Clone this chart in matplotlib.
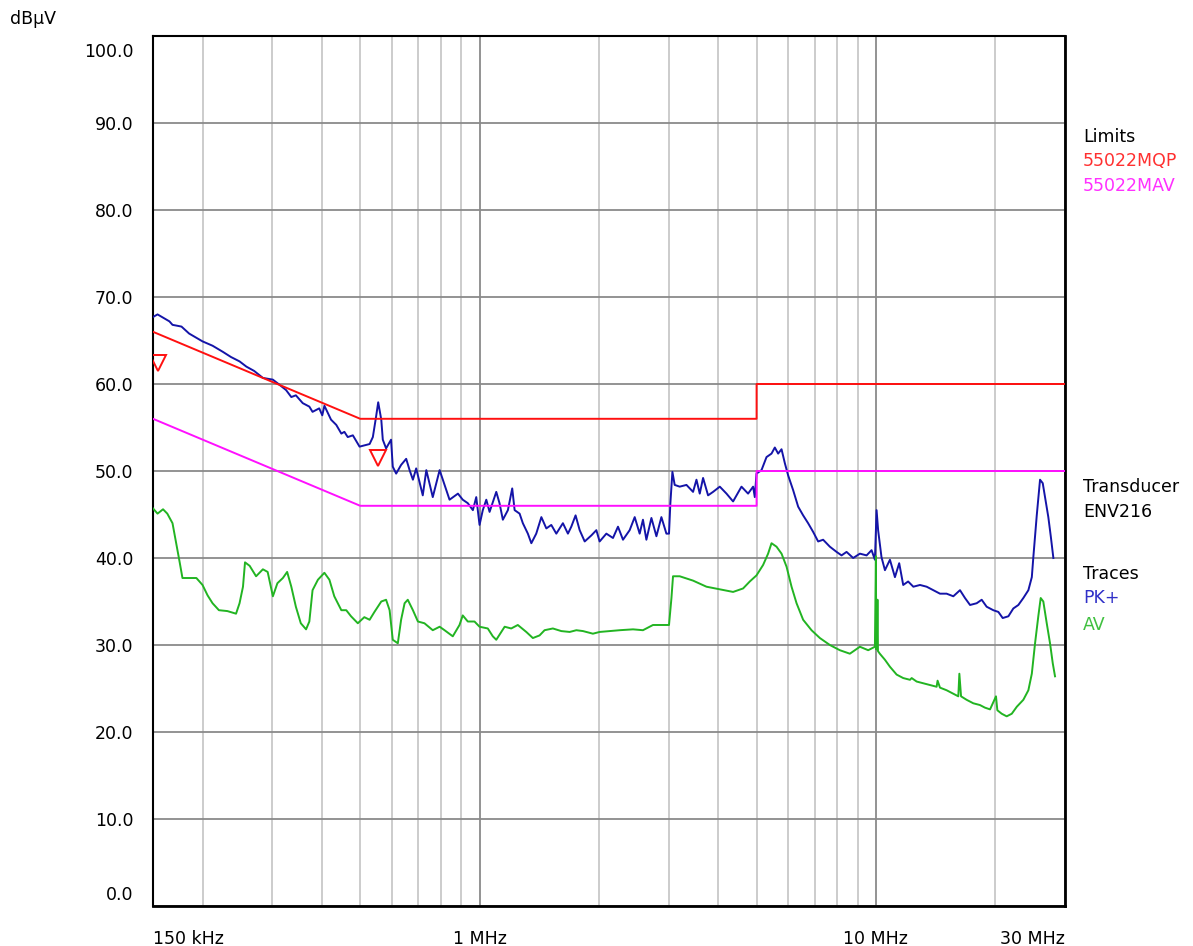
import matplotlib
matplotlib.use('agg')
import matplotlib.pyplot as plt
import matplotlib.transforms as mtransforms
from matplotlib.ticker import FixedLocator, LogLocator, NullFormatter

# limit lines (EN55022 class B, QP and AV), frequency in MHz, level in dBuV
limit_freq = [0.15, 0.5, 5, 5, 30]
qp_limit = [66, 56, 56, 60, 60]
av_limit = [56, 46, 46, 50, 50]

# PK+ trace
pk_freq = [0.150, 0.154, 0.165, 0.168, 0.177, 0.185, 0.200, 0.212, 0.225, 0.236,
           0.248, 0.258, 0.270, 0.284, 0.301, 0.313, 0.325, 0.335, 0.344, 0.358,
           0.372, 0.379, 0.394, 0.401, 0.406, 0.422, 0.435, 0.448, 0.456, 0.465,
           0.479, 0.498, 0.528, 0.538, 0.548, 0.555, 0.565, 0.570, 0.581, 0.598,
           0.604, 0.616, 0.634, 0.653, 0.666, 0.679, 0.692, 0.719, 0.734, 0.762,
           0.793, 0.816, 0.840, 0.882, 0.907, 0.934, 0.962, 0.981, 1.000, 1.019,
           1.040, 1.060, 1.102, 1.123, 1.145, 1.179, 1.209, 1.226, 1.262, 1.286,
           1.324, 1.351, 1.390, 1.432, 1.474, 1.517, 1.562, 1.623, 1.671, 1.704,
           1.747, 1.789, 1.842, 1.915, 1.971, 2.009, 2.089, 2.171, 2.235, 2.301,
           2.392, 2.463, 2.535, 2.584, 2.636, 2.714, 2.794, 2.876, 2.961, 3.006,
           3.030, 3.066, 3.107, 3.199, 3.327, 3.457, 3.526, 3.594, 3.664, 3.772,
           3.883, 4.038, 4.198, 4.362, 4.580, 4.759, 4.900, 4.948, 4.997, 5.145,
           5.297, 5.453, 5.559, 5.667, 5.780, 5.892, 6.006, 6.183, 6.366, 6.553,
           6.745, 6.945, 7.150, 7.360, 7.653, 7.958, 8.191, 8.433, 8.764, 9.112,
           9.474, 9.752, 9.943, 10.04, 10.13, 10.33, 10.54, 10.85, 11.17, 11.45,
           11.72, 12.06, 12.43, 12.92, 13.43, 13.95, 14.51, 15.08, 15.68, 16.30,
           16.78, 17.28, 17.96, 18.49, 19.03, 19.78, 20.37, 20.89, 21.59, 22.22,
           22.88, 23.55, 24.25, 24.74, 24.96, 25.46, 25.95, 26.36, 26.72, 27.23,
           27.62, 28.04]
pk_level = [67.7, 68.0, 67.2, 66.8, 66.6, 65.8, 64.9, 64.4, 63.7, 63.1,
            62.6, 62.0, 61.5, 60.7, 60.5, 59.9, 59.3, 58.5, 58.7, 57.8,
            57.4, 56.8, 57.2, 56.4, 57.5, 55.9, 55.3, 54.3, 54.5, 53.9,
            54.1, 52.8, 53.1, 53.9, 56.2, 57.9, 55.9, 53.6, 52.6, 53.6,
            50.5, 49.7, 50.7, 51.4, 50.1, 49.0, 50.3, 47.2, 50.1, 47.0,
            50.1, 48.4, 46.7, 47.4, 46.7, 46.3, 45.5, 47.0, 43.8, 45.5,
            46.7, 45.3, 47.6, 46.3, 44.4, 45.5, 48.0, 45.5, 45.1, 44.0,
            42.8, 41.7, 42.8, 44.7, 43.4, 43.8, 42.8, 44.0, 42.8, 43.6,
            44.9, 43.2, 41.9, 42.6, 43.2, 41.9, 42.8, 42.3, 43.6, 42.1,
            43.2, 44.7, 42.8, 44.4, 42.1, 44.6, 42.5, 44.7, 42.8, 42.8,
            46.3, 49.9, 48.4, 48.2, 48.4, 47.6, 49.0, 47.4, 49.2, 47.2,
            47.6, 48.2, 47.4, 46.5, 48.2, 47.4, 48.2, 47.0, 49.7, 50.1,
            51.6, 52.0, 52.7, 52.0, 52.5, 50.9, 49.5, 47.8, 45.9, 44.9,
            44.0, 43.0, 41.9, 42.1, 41.3, 40.7, 40.3, 40.7, 40.0, 40.5,
            40.3, 40.9, 39.8, 45.5, 43.2, 40.1, 38.6, 39.8, 37.8, 39.4,
            36.9, 37.3, 36.7, 36.9, 36.7, 36.3, 35.9, 35.9, 35.6, 36.3,
            35.4, 34.6, 34.8, 35.2, 34.4, 34.0, 33.8, 33.1, 33.3, 34.2,
            34.6, 35.4, 36.3, 37.8, 40.1, 44.9, 49.0, 48.6, 47.0, 44.7,
            42.5, 40.0]

# AV trace
av_freq = [0.150, 0.154, 0.159, 0.163, 0.168, 0.171, 0.175, 0.178, 0.182, 0.193,
           0.200, 0.206, 0.212, 0.220, 0.231, 0.243, 0.248, 0.253, 0.256, 0.263,
           0.273, 0.284, 0.292, 0.301, 0.309, 0.319, 0.327, 0.335, 0.344, 0.354,
           0.365, 0.372, 0.379, 0.391, 0.406, 0.418, 0.430, 0.448, 0.461, 0.474,
           0.493, 0.512, 0.528, 0.543, 0.565, 0.581, 0.593, 0.604, 0.622, 0.634,
           0.647, 0.659, 0.679, 0.699, 0.726, 0.762, 0.793, 0.816, 0.856, 0.890,
           0.907, 0.934, 0.971, 1.000, 1.049, 1.080, 1.102, 1.157, 1.202, 1.249,
           1.312, 1.363, 1.417, 1.459, 1.531, 1.608, 1.688, 1.755, 1.824, 1.932,
           2.009, 2.130, 2.257, 2.439, 2.584, 2.739, 2.876, 3.006, 3.049, 3.077,
           3.199, 3.457, 3.737, 4.038, 4.362, 4.623, 4.806, 4.997, 5.193, 5.346,
           5.453, 5.614, 5.780, 5.951, 6.126, 6.307, 6.553, 6.880, 7.222, 7.653,
           8.111, 8.596, 9.112, 9.563, 9.943, 10.00, 10.02, 10.04, 10.06, 10.08,
           10.10, 10.12, 10.23, 10.54, 10.85, 11.28, 11.72, 12.19, 12.31, 12.67,
           13.17, 13.69, 14.23, 14.31, 14.51, 15.08, 15.68, 16.14, 16.24, 16.40,
           16.94, 17.61, 18.30, 18.84, 19.41, 20.09, 20.25, 20.77, 21.38, 22.02,
           22.67, 23.55, 24.25, 24.74, 25.21, 25.69, 26.05, 26.45, 26.98, 27.50,
           27.94, 28.31]
av_level = [45.7, 45.1, 45.6, 45.1, 44.0, 42.1, 39.6, 37.7, 37.7, 37.7,
            36.9, 35.7, 34.8, 34.0, 33.9, 33.6, 34.8, 36.7, 39.5, 39.1,
            37.9, 38.7, 38.4, 35.6, 37.1, 37.7, 38.4, 36.7, 34.4, 32.5,
            31.8, 32.7, 36.3, 37.5, 38.3, 37.5, 35.6, 34.0, 34.0, 33.3,
            32.5, 33.2, 32.9, 33.8, 35.0, 35.2, 34.0, 30.6, 30.2, 32.9,
            34.8, 35.2, 34.0, 32.7, 32.5, 31.7, 32.1, 31.7, 31.0, 32.3,
            33.4, 32.7, 32.7, 32.1, 31.9, 31.0, 30.6, 32.1, 31.9, 32.3,
            31.5, 30.8, 31.1, 31.7, 31.9, 31.6, 31.5, 31.7, 31.6, 31.3,
            31.5, 31.6, 31.7, 31.8, 31.7, 32.3, 32.3, 32.3, 35.4, 37.9,
            37.9, 37.4, 36.7, 36.4, 36.1, 36.5, 37.3, 38.0, 39.2, 40.5,
            41.7, 41.3, 40.5, 39.0, 36.7, 34.8, 32.9, 31.7, 30.8, 30.0,
            29.4, 29.0, 29.8, 29.4, 29.8, 40.2, 29.5, 35.2, 29.5, 35.2,
            35.2, 29.3, 29.0, 28.3, 27.5, 26.6, 26.2, 26.0, 26.2, 25.8,
            25.6, 25.4, 25.2, 25.9, 25.1, 24.8, 24.4, 24.1, 26.7, 24.1,
            23.7, 23.3, 23.1, 22.8, 22.6, 24.1, 22.5, 22.1, 21.8, 22.1,
            22.9, 23.7, 24.8, 26.7, 30.2, 33.3, 35.4, 35.0, 32.5, 30.2,
            27.9, 26.4]

# final measurement markers
marker_freq = [0.154, 0.555]
marker_level = [62.4, 51.5]

y_ticks = [0, 10, 20, 30, 40, 50, 60, 70, 80, 90, 100]
x_ticks = [0.15, 1, 10, 30]
x_labels = ['150 kHz', '1 MHz', '10 MHz', '30 MHz']

W, H = 1193, 946
fig = plt.figure(figsize=(W / 100, H / 100), dpi=100)
fig.patch.set_facecolor('white')
ax = fig.add_axes([153 / W, 1 - 906 / H, (1065 - 153) / W, (906 - 36) / H])

ax.set_xscale('log')
ax.set_xlim(0.15, 30)
ax.set_ylim(0, 100)

# grid
ax.xaxis.set_major_locator(FixedLocator(x_ticks))
ax.xaxis.set_minor_locator(LogLocator(base=10, subs=range(2, 10), numticks=20))
ax.xaxis.set_minor_formatter(NullFormatter())
ax.set_xticklabels(x_labels)
ax.set_yticks(y_ticks)
ax.set_yticklabels(['%.1f' % v for v in y_ticks])
ax.grid(which='minor', axis='x', color='#c8c8c8', linewidth=1.3)
ax.grid(which='major', axis='x', color='#8a8a8a', linewidth=1.3)
ax.grid(which='major', axis='y', color='#8a8a8a', linewidth=1.3)
ax.set_axisbelow(True)

ax.tick_params(which='both', length=0)
ax.tick_params(axis='x', pad=17, labelsize=12.5, colors='black')
ax.tick_params(axis='y', pad=14, labelsize=12.5, colors='black')
for sp in ax.spines.values():
    sp.set_color('black')
    sp.set_linewidth(1.5)
ax.spines['right'].set_linewidth(2.0)
ax.spines['bottom'].set_linewidth(2.0)

# outer tick labels sit inside the frame
xl = ax.get_xticklabels()
xl[0].set_ha('left')
xl[-1].set_ha('right')
yl = ax.get_yticklabels()
yl[0].set_transform(yl[0].get_transform() + mtransforms.ScaledTranslation(0, 13 / 100, fig.dpi_scale_trans))
yl[-1].set_transform(yl[-1].get_transform() + mtransforms.ScaledTranslation(0, -14 / 100, fig.dpi_scale_trans))

# traces
ax.plot(pk_freq, pk_level, color='#1414a8', linewidth=1.4, zorder=3)
ax.plot(av_freq, av_level, color='#22b422', linewidth=1.4, zorder=3)

# limits
ax.plot(limit_freq, qp_limit, color='#ff1010', linewidth=1.4, zorder=4)
ax.plot(limit_freq, av_limit, color='#ff10ff', linewidth=1.4, zorder=4)

ax.plot(marker_freq, marker_level, linestyle='none', marker='v', markersize=11,
        markerfacecolor='none', markeredgecolor='#ff1010', markeredgewidth=1.4, zorder=5)

# unit and side legend
fig.text(10 / W, 1 - 19 / H, 'dBµV', fontsize=12.5, va='center', ha='left')
side = [('Limits', 'black', 137), ('55022MQP', '#ff3030', 161), ('55022MAV', '#ff30ff', 186),
        ('Transducer', 'black', 487), ('ENV216', 'black', 512),
        ('Traces', 'black', 574), ('PK+', '#3030c8', 598), ('AV', '#40c040', 625)]
for txt, col, yp in side:
    fig.text(1083 / W, 1 - yp / H, txt, color=col, fontsize=12.5, va='center', ha='left')

fig.savefig('out.png', dpi=100, facecolor='white')
